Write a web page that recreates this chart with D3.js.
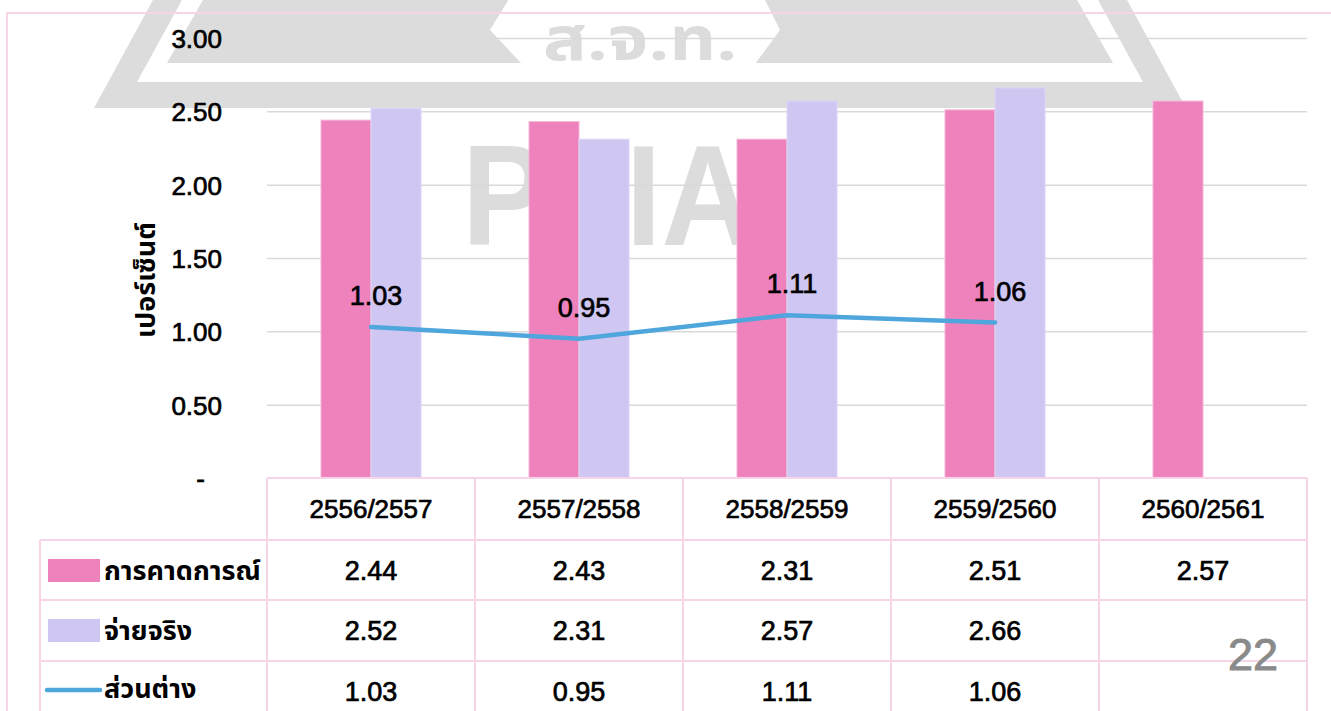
<!DOCTYPE html>
<html>
<head>
<meta charset="utf-8">
<script src="https://cdn.jsdelivr.net/npm/d3@7"></script>
<style>
  body { margin: 0; background: #fff; }
  svg { display: block; }
  .num { font-family: "Liberation Sans", Arial, sans-serif; font-size: 26px; fill: #000; stroke: #000; stroke-width: 0.7px; }
  .thai { font-family: "Noto Sans Thai", "Noto Sans", "DejaVu Sans", sans-serif; font-size: 27px; font-weight: bold; fill: #000; }
</style>
</head>
<body>
<div id="chart"></div>
<script>
// data
var categories = ["2556/2557", "2557/2558", "2558/2559", "2559/2560", "2560/2561"];
var forecast = [2.44, 2.43, 2.31, 2.51, 2.57];   // การคาดการณ์
var actual = [2.52, 2.31, 2.57, 2.66, null];     // จ่ายจริง
var diff = [1.03, 0.95, 1.11, 1.06, null];       // ส่วนต่าง
var seriesNames = ["การคาดการณ์", "จ่ายจริง", "ส่วนต่าง"];
var yTicks = [0, 0.5, 1, 1.5, 2, 2.5, 3];
var yTitle = "เปอร์เซ็นต์";
var pageNo = "22";

var W = 1331, H = 711;
var pink = "#ee82bc", lav = "#d0c6f2", blue = "#4ea6dc", border = "#f7d4e7";

var svg = d3.select("#chart").append("svg")
  .attr("width", W).attr("height", H);

// watermark (logo behind the chart)
var wm = svg.append("g").attr("fill", "#dcdcdc");
wm.append("path")
  .attr("fill-rule", "evenodd")
  .attr("d", "M153,0 L1127,0 L1186,108 L94,108 Z M182,0 L1098,0 L1143,82 L137,82 Z");
wm.append("path").attr("d", "M203,0 L1077,0 L1113,63 L167,63 Z");
wm.append("path").attr("fill", "#fff")
  .attr("d", "M490,30 L512,-6 L762,-6 L780,30 L755,64 L522,64 Z");
wm.append("text")
  .attr("x", 543).attr("y", 60)
  .attr("textLength", 194).attr("lengthAdjust", "spacingAndGlyphs")
  .style("font-family", "'Noto Sans Thai', 'Noto Sans', sans-serif")
  .style("font-size", "60px").style("font-weight", "bold")
  .text("ส.จ.ท.");
wm.append("text")
  .attr("x", 462).attr("y", 245)
  .attr("textLength", 292).attr("lengthAdjust", "spacingAndGlyphs")
  .style("font-family", "'Liberation Sans', Arial, sans-serif")
  .style("font-weight", "bold").style("font-size", "142px")
  .text("PTIA");

// scales
var x = d3.scaleBand().domain(categories).range([267, 1307]).padding(0);
var x1 = d3.scaleBand().domain(["f", "a"]).range([0, x.bandwidth()])
  .paddingInner(0).paddingOuter(1.08);
var y = d3.scaleLinear().domain([0, 3]).range([478, 38]);

// gridlines
svg.append("g")
  .attr("transform", "translate(267,0)")
  .call(d3.axisLeft(y).tickValues(yTicks.slice(1)).tickSize(-1040).tickFormat(""))
  .call(function(g) {
    g.select(".domain").remove();
    g.selectAll("line").attr("stroke", "#d9d9d9").attr("stroke-width", 1.5);
  });

// y axis labels
svg.append("g")
  .attr("transform", "translate(222,0)")
  .call(d3.axisLeft(y).tickValues(yTicks).tickSize(0).tickPadding(0)
    .tickFormat(function(d) { return d === 0 ? "-" : d3.format(".2f")(d); }))
  .call(function(g) {
    g.select(".domain").remove();
    g.selectAll("text")
      .attr("class", "num")
      .attr("font-size", null).attr("font-family", null).attr("fill", null)
      .attr("dy", "0.36em")
      .attr("x", function(d) { return d === 0 ? -17 : 0; });
  });

// y title
svg.append("text")
  .attr("class", "thai")
  .attr("transform", "translate(155,280) rotate(-90)")
  .attr("text-anchor", "middle")
  .text(yTitle);

// bars
var bars = svg.append("g");
bars.selectAll(".bf").data(categories).enter().append("rect")
  .attr("x", function(d) { return x(d) + x1("f"); })
  .attr("y", function(d, i) { return y(forecast[i]); })
  .attr("width", x1.bandwidth())
  .attr("height", function(d, i) { return y(0) - y(forecast[i]); })
  .attr("fill", pink).attr("stroke", "#f6b3d6").attr("stroke-width", 1);
bars.selectAll(".ba").data(categories.filter(function(d, i) { return actual[i] != null; }))
  .enter().append("rect")
  .attr("x", function(d) { return x(d) + x1("a"); })
  .attr("y", function(d) { return y(actual[categories.indexOf(d)]); })
  .attr("width", x1.bandwidth())
  .attr("height", function(d) { return y(0) - y(actual[categories.indexOf(d)]); })
  .attr("fill", lav).attr("stroke", "#ddd5f6").attr("stroke-width", 1);

// difference line
var line = d3.line()
  .defined(function(d) { return d.v != null; })
  .x(function(d) { return x(d.c) + x.bandwidth() / 2; })
  .y(function(d) { return y(d.v); });
var pts = categories.map(function(c, i) { return { c: c, v: diff[i] }; });
svg.append("path")
  .datum(pts)
  .attr("d", line)
  .attr("fill", "none").attr("stroke", blue)
  .attr("stroke-width", 4.5).attr("stroke-linecap", "round").attr("stroke-linejoin", "round");

svg.selectAll(".lbl").data(pts.filter(function(d) { return d.v != null; }))
  .enter().append("text")
  .attr("class", "num")
  .style("font-size", "27px")
  .attr("text-anchor", "middle")
  .attr("x", function(d) { return x(d.c) + x.bandwidth() / 2 + 5; })
  .attr("y", function(d) { return y(d.v) - 22; })
  .text(function(d) { return d3.format(".2f")(d.v); });

// data table under the plot
var rows = [478, 540, 600, 661, 722];
var tbl = svg.append("g").attr("stroke", border).attr("stroke-width", 2);
tbl.append("line").attr("x1", 267).attr("x2", 1307).attr("y1", rows[0]).attr("y2", rows[0]);
rows.slice(1, 4).forEach(function(r) {
  tbl.append("line").attr("x1", 40).attr("x2", 1307).attr("y1", r).attr("y2", r);
});
tbl.append("line").attr("x1", 40).attr("x2", 40).attr("y1", rows[1]).attr("y2", H);
categories.forEach(function(c) {
  tbl.append("line").attr("x1", x(c)).attr("x2", x(c)).attr("y1", rows[0]).attr("y2", H);
});
tbl.append("line").attr("x1", 1307).attr("x2", 1307).attr("y1", rows[0]).attr("y2", H);

// outer slide frame
svg.append("path")
  .attr("d", "M7," + H + " L7,13 L" + W + ",13")
  .attr("fill", "none").attr("stroke", border).attr("stroke-width", 2);

function rowMid(k) { return (rows[k] + rows[k + 1]) / 2; }

svg.selectAll(".hdr").data(categories).enter().append("text")
  .attr("class", "num").attr("text-anchor", "middle")
  .attr("x", function(d) { return x(d) + x.bandwidth() / 2; })
  .attr("y", rowMid(0)).attr("dy", "0.36em")
  .text(function(d) { return d; });

[forecast, actual, diff].forEach(function(arr, k) {
  svg.selectAll(".cell" + k).data(categories).enter().append("text")
    .attr("class", "num").attr("text-anchor", "middle")
    .style("font-size", "27px")
    .attr("x", function(d) { return x(d) + x.bandwidth() / 2; })
    .attr("y", rowMid(k + 1)).attr("dy", "0.36em")
    .text(function(d, i) { return arr[i] == null ? "" : d3.format(".2f")(arr[i]); });
});

// legend keys in table
svg.append("rect").attr("x", 48).attr("y", 559).attr("width", 52).attr("height", 23).attr("fill", pink);
svg.append("rect").attr("x", 48).attr("y", 619).attr("width", 52).attr("height", 23).attr("fill", lav);
svg.append("line").attr("x1", 47).attr("x2", 100).attr("y1", 690).attr("y2", 690)
  .attr("stroke", blue).attr("stroke-width", 4.5).attr("stroke-linecap", "round");
seriesNames.forEach(function(n, k) {
  svg.append("text").attr("class", "thai")
    .attr("x", 104).attr("y", rowMid(k + 1) - (k === 2 ? 3 : 0)).attr("dy", "0.36em")
    .text(n);
});

// page number
svg.append("text")
  .attr("x", 1253).attr("y", 670).attr("text-anchor", "middle")
  .style("font-family", "'Liberation Sans Narrow', 'Liberation Sans', sans-serif")
  .style("font-size", "45px").style("fill", "#8a8a8a")
  .style("stroke", "#8a8a8a").style("stroke-width", "1px")
  .text(pageNo);
</script>
</body>
</html>
